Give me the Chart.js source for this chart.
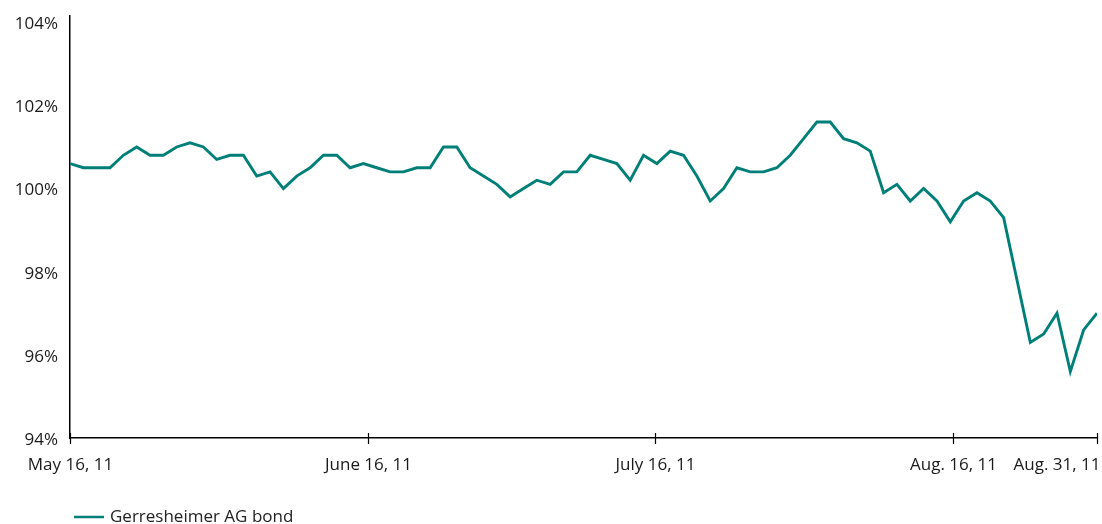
<!DOCTYPE html>
<html>
<head>
<meta charset="utf-8">
<script src="https://cdn.jsdelivr.net/npm/chart.js@4.4.1/dist/chart.umd.min.js"></script>
<style>
  html, body { margin: 0; padding: 0; background: #ffffff; }
  #wrap { width: 1102px; height: 524px; }
</style>
</head>
<body>
<div id="wrap"><canvas id="c" width="1102" height="524"></canvas></div>
<script>
// ---- Data ----
const seriesName = "Gerresheimer AG bond";
const values = [
  100.6, 100.5, 100.5, 100.5, 100.8, 101.0, 100.8, 100.8, 101.0, 101.1,
  101.0, 100.7, 100.8, 100.8, 100.3, 100.4, 100.0, 100.3, 100.5, 100.8,
  100.8, 100.5, 100.6, 100.5, 100.4, 100.4, 100.5, 100.5, 101.0, 101.0,
  100.5, 100.3, 100.1, 99.8, 100.0, 100.2, 100.1, 100.4, 100.4, 100.8,
  100.7, 100.6, 100.2, 100.8, 100.6, 100.9, 100.8, 100.3, 99.7, 100.0,
  100.5, 100.4, 100.4, 100.5, 100.8, 101.2, 101.6, 101.6, 101.2, 101.1,
  100.9, 99.9, 100.1, 99.7, 100.0, 99.7, 99.2, 99.7, 99.9, 99.7,
  99.3, 97.8, 96.3, 96.5, 97.0, 95.6, 96.6, 97.0
];
const tickLabels = ["May 16, 11", "June 16, 11", "July 16, 11", "Aug. 16, 11", "Aug. 31, 11"];
const tickDays = [0, 31, 61, 92, 107];   // calendar days after May 16, 2011
const totalDays = 107;
const yTicks = [94, 96, 98, 100, 102, 104];

const lineColor = '#007f78';
const textColor = '#1a1a1a';
const fontFamily = '"Open Sans", "Noto Sans", sans-serif';
const fontSize = 17;

const points = values.map((v, i) => ({ x: i * totalDays / (values.length - 1), y: v }));

const customAxis = {
  id: 'customAxis',
  afterDraw(chart) {
    const ctx = chart.ctx;
    const xs = chart.scales.x;
    const area = chart.chartArea;
    ctx.save();
    ctx.strokeStyle = '#000';
    ctx.lineWidth = 1.2;
    ctx.font = fontSize + 'px ' + fontFamily;
    ctx.fillStyle = textColor;
    ctx.textBaseline = 'middle';
    const last = tickDays.length - 1;
    tickDays.forEach((d, i) => {
      const px = Math.round(xs.getPixelForValue(d)) + 0.5;
      ctx.beginPath();
      ctx.moveTo(px, area.bottom - 5);
      ctx.lineTo(px, area.bottom + 6);
      ctx.stroke();
      ctx.textAlign = i === last ? 'right' : 'center';
      ctx.fillText(tickLabels[i], i === last ? px + 3 : px, 465);
    });
    // legend
    const ds = chart.data.datasets[0];
    ctx.strokeStyle = ds.borderColor;
    ctx.lineWidth = 2.5;
    ctx.beginPath();
    ctx.moveTo(74, 517);
    ctx.lineTo(104, 517);
    ctx.stroke();
    ctx.textAlign = 'left';
    ctx.fillStyle = '#222';
    ctx.fillText(ds.label, 110, 517);
    ctx.restore();
  }
};

new Chart(document.getElementById('c'), {
  type: 'line',
  data: {
    datasets: [{
      label: seriesName,
      data: points,
      borderColor: lineColor,
      backgroundColor: lineColor,
      borderWidth: 2.9,
      pointRadius: 0,
      tension: 0,
      fill: false
    }]
  },
  options: {
    responsive: false,
    animation: false,
    devicePixelRatio: 1,
    layout: { padding: { top: 16, right: 5, bottom: 0, left: 0 } },
    plugins: { legend: { display: false }, tooltip: { enabled: false } },
    scales: {
      x: {
        type: 'linear',
        min: 0,
        max: totalDays,
        grid: { display: false },
        border: { display: true, color: '#000', width: 1.5 },
        ticks: { display: false },
        afterBuildTicks: (s) => { s.ticks = tickDays.map(v => ({ value: v })); },
        afterFit: (s) => { s.height = 86; s.paddingLeft = 0; s.paddingRight = 0; }
      },
      y: {
        min: 94,
        max: 104.15,
        grid: { display: false, drawTicks: false },
        border: { display: true, color: '#000', width: 1.5 },
        ticks: {
          padding: 12,
          labelOffset: 2,
          color: textColor,
          font: { family: fontFamily, size: fontSize },
          callback: (v) => v + '%'
        },
        afterBuildTicks: (s) => { s.ticks = yTicks.map(v => ({ value: v })); },
        afterFit: (s) => { s.width = 70; s.paddingTop = 0; s.paddingBottom = 0; }
      }
    }
  },
  plugins: [customAxis]
});
</script>
</body>
</html>
